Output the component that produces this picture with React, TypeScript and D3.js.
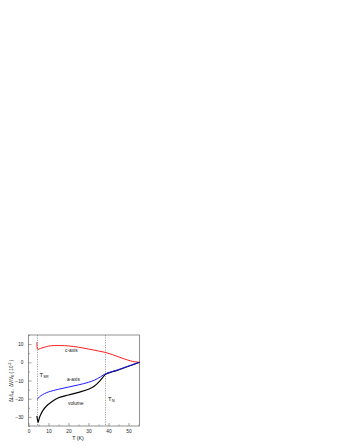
import React, { useRef, useEffect } from "react";
import * as d3 from "d3";

// c-axis (red)
const cAxisT = [4.2, 4.6, 6, 8, 10, 13, 16, 20, 25, 30, 35, 38.5, 42, 45, 48, 51, 53, 55.5];
const cAxisV = [11, 7.2, 7.6, 8.3, 8.9, 9.2, 9.2, 9.0, 8.3, 7.3, 6.2, 5.4, 4.2, 3.0, 1.8, 0.8, 0.3, 0];

// a-axis (blue)
const aAxisT = [4.5, 5, 6, 8, 10, 15, 20, 25, 30, 33, 36, 38.5, 42, 45, 48, 51, 55.5];
const aAxisV = [-20.5, -19.5, -18.5, -17.2, -16.3, -14.8, -13.6, -12.4, -11, -9.8, -8, -6.3, -5, -4, -2.8, -1.7, 0];

// volume (black)
const volT = [4.2, 4.8, 5.3, 6, 7, 9, 11.5, 15, 20, 25, 30, 33, 35, 37, 38.5, 42, 45, 48, 51, 55.5];
const volV = [-29.5, -33, -31, -29, -26.8, -24, -21.8, -19.5, -18, -16.5, -14.8, -13, -11, -8.5, -6.6, -5.2, -4.2, -3, -1.8, 0];

const xTicks = [0, 10, 20, 30, 40, 50];
const xMinor = [5, 15, 25, 35, 45, 55];
const yTicks = [-30, -20, -10, 0, 10];
const yMinor = [-35, -25, -15, -5, 5, 15];

const tSR = 4.5;
const tN = 38.5;

const App = () => {
  const svgRef = useRef(null);

  useEffect(() => {
    const svg = d3.select(svgRef.current);
    svg.selectAll("*").remove();

    const margin = { left: 28.5, right: 139.5, top: 335, bottom: 426 };
    const font = "Liberation Sans, Arial, sans-serif";

    const x = d3.scaleLinear().domain([0, 55.5]).range([margin.left, margin.right]);
    const y = d3.scaleLinear().domain([-35, 15]).range([margin.bottom, margin.top]);

    // frame
    svg
      .append("rect")
      .attr("x", margin.left)
      .attr("y", margin.top)
      .attr("width", margin.right - margin.left)
      .attr("height", margin.bottom - margin.top)
      .attr("fill", "none")
      .attr("stroke", "#777")
      .attr("stroke-width", 0.8);

    // x axis
    const gx = svg
      .append("g")
      .attr("transform", `translate(0,${margin.bottom})`)
      .call(d3.axisBottom(x).tickValues(xTicks).tickSize(-3).tickPadding(4));
    gx.select(".domain").remove();
    gx.selectAll("line").attr("stroke", "#777").attr("stroke-width", 0.7);
    gx.selectAll("text").attr("font-size", 4.8).attr("font-family", font).attr("fill", "#222");
    svg
      .append("g")
      .attr("transform", `translate(0,${margin.bottom})`)
      .call(d3.axisBottom(x).tickValues(xMinor).tickSize(-1.5).tickFormat(() => ""))
      .call((g) => g.select(".domain").remove())
      .selectAll("line")
      .attr("stroke", "#777")
      .attr("stroke-width", 0.7);

    // y axis
    const gy = svg
      .append("g")
      .attr("transform", `translate(${margin.left},0)`)
      .call(d3.axisLeft(y).tickValues(yTicks).tickSize(-3).tickPadding(5));
    gy.select(".domain").remove();
    gy.selectAll("line").attr("stroke", "#777").attr("stroke-width", 0.7);
    gy.selectAll("text").attr("font-size", 4.8).attr("font-family", font).attr("fill", "#222");
    svg
      .append("g")
      .attr("transform", `translate(${margin.left},0)`)
      .call(d3.axisLeft(y).tickValues(yMinor).tickSize(-1.5).tickFormat(() => ""))
      .call((g) => g.select(".domain").remove())
      .selectAll("line")
      .attr("stroke", "#777")
      .attr("stroke-width", 0.7);

    // dashed lines at transitions
    [tSR, tN].forEach((t) => {
      svg
        .append("line")
        .attr("x1", x(t))
        .attr("x2", x(t))
        .attr("y1", margin.top)
        .attr("y2", margin.bottom)
        .attr("stroke", "#666")
        .attr("stroke-width", 0.6)
        .attr("stroke-dasharray", "1.2,1.2");
    });

    const curve = d3
      .line<[number, number]>()
      .x((d) => x(d[0]))
      .y((d) => y(d[1]))
      .curve(d3.curveCatmullRom);

    const series = [
      { t: cAxisT, v: cAxisV, color: "#ff1a1a", w: 1 },
      { t: volT, v: volV, color: "#000", w: 1.15 },
      { t: aAxisT, v: aAxisV, color: "#1a1aff", w: 1 },
    ];
    series.forEach((s) => {
      const pts: [number, number][] = s.t.map((t, i) => [t, s.v[i]]);
      svg
        .append("path")
        .attr("d", curve(pts))
        .attr("fill", "none")
        .attr("stroke", s.color)
        .attr("stroke-width", s.w)
        .attr("stroke-linejoin", "round");
    });

    // curve labels
    const labels = [
      { text: "c-axis", tx: 65, ty: 352 },
      { text: "a-axis", tx: 67, ty: 381 },
      { text: "volume", tx: 68, ty: 405 },
    ];
    labels.forEach((l) => {
      svg
        .append("text")
        .attr("x", l.tx)
        .attr("y", l.ty)
        .attr("font-size", 4.8)
        .attr("font-family", font)
        .attr("fill", "#111")
        .text(l.text);
    });

    // transition labels
    const tsr = svg
      .append("text")
      .attr("x", 39.5)
      .attr("y", 377)
      .attr("font-size", 6)
      .attr("font-family", font)
      .attr("fill", "#111");
    tsr.append("tspan").text("T");
    tsr.append("tspan").attr("font-size", 4).attr("dy", 1.2).text("SR");

    const tn = svg
      .append("text")
      .attr("x", 108)
      .attr("y", 401)
      .attr("font-size", 6)
      .attr("font-family", font)
      .attr("fill", "#111");
    tn.append("tspan").text("T");
    tn.append("tspan").attr("font-size", 4).attr("dy", 1.2).text("N");

    // x label
    svg
      .append("text")
      .attr("x", (margin.left + margin.right) / 2 - 6)
      .attr("y", 440)
      .attr("text-anchor", "middle")
      .attr("font-size", 5.3)
      .attr("font-family", font)
      .attr("fill", "#111")
      .text("T (K)");

    // y label
    const yl = svg
      .append("text")
      .attr("transform", `translate(13,381) rotate(-90)`)
      .attr("text-anchor", "middle")
      .attr("font-size", 4.6)
      .attr("font-family", font)
      .attr("fill", "#111");
    yl.append("tspan").text("ΔL/L");
    yl.append("tspan").attr("font-size", 3.4).attr("dy", 1).text("0");
    yl.append("tspan").attr("dy", -1).text(" ,  ΔV/V");
    yl.append("tspan").attr("font-size", 3.4).attr("dy", 1).text("0");
    yl.append("tspan").attr("dy", -1).text("  ( 10");
    yl.append("tspan").attr("font-size", 3.4).attr("dy", -1.8).text("-3");
    yl.append("tspan").attr("dy", 1.8).text(" )");
  }, []);

  return (
    <svg
      ref={svgRef}
      width={346}
      height={448}
      style={{ position: "absolute", left: 0, top: 0, background: "#fff" }}
    ></svg>
  );
};

export default App;
